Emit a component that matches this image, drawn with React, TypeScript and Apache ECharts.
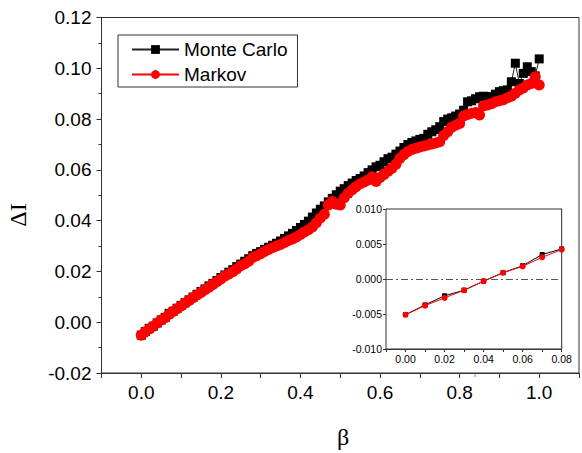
import React, { useEffect, useRef } from 'react';
import * as echarts from 'echarts';

const beta = [
  0.0, 0.01, 0.02, 0.03, 0.04, 0.05, 0.06, 0.07, 0.08, 0.09,
  0.1, 0.11, 0.12, 0.13, 0.14, 0.15, 0.16, 0.17, 0.18, 0.19,
  0.2, 0.21, 0.22, 0.23, 0.24, 0.25, 0.26, 0.27, 0.28, 0.29,
  0.3, 0.31, 0.32, 0.33, 0.34, 0.35, 0.36, 0.37, 0.38, 0.39,
  0.4, 0.41, 0.42, 0.43, 0.44, 0.45, 0.46, 0.47, 0.48, 0.49,
  0.5, 0.51, 0.52, 0.53, 0.54, 0.55, 0.56, 0.57, 0.58, 0.59,
  0.6, 0.61, 0.62, 0.63, 0.64, 0.65, 0.66, 0.67, 0.68, 0.69,
  0.7, 0.71, 0.72, 0.73, 0.74, 0.75, 0.76, 0.77, 0.78, 0.79,
  0.8, 0.81, 0.82, 0.83, 0.84, 0.85, 0.86, 0.87, 0.88, 0.89,
  0.9, 0.91, 0.92, 0.93, 0.94, 0.95, 0.96, 0.97, 0.98, 0.99,
  1.0,
];

const monteCarlo = [
  -0.0051, -0.0037, -0.0024, -0.0016, -0.0003, 0.0009, 0.0019, 0.0035, 0.0043, 0.0055,
  0.0066, 0.0077, 0.0088, 0.0099, 0.011, 0.0121, 0.0131, 0.0143, 0.0153, 0.0164,
  0.0176, 0.0186, 0.0197, 0.0207, 0.0219, 0.0229, 0.024, 0.025, 0.0262, 0.0271,
  0.0278, 0.0287, 0.0295, 0.0303, 0.0311, 0.032, 0.033, 0.034, 0.035, 0.0361,
  0.0373, 0.0385, 0.0398, 0.0414, 0.043, 0.0445, 0.0458, 0.0474, 0.0488, 0.0502,
  0.0516, 0.0526, 0.0538, 0.0548, 0.0558, 0.0566, 0.0576, 0.0589, 0.06, 0.0612,
  0.0618, 0.0632, 0.0644, 0.065, 0.0662, 0.0674, 0.0688, 0.07, 0.0708, 0.0714,
  0.072, 0.0724, 0.074, 0.075, 0.0758, 0.077, 0.079, 0.08, 0.0805, 0.0812,
  0.082, 0.0835, 0.0868, 0.0872, 0.088, 0.0888, 0.089, 0.0888, 0.0888, 0.0898,
  0.0908, 0.0912, 0.0915, 0.0947, 0.102, 0.094, 0.098, 0.1006, 0.0987, 0.097,
  0.1037,
];

const markov = [
  -0.0051, -0.0038, -0.0027, -0.0016, -0.0003, 0.0009, 0.0018, 0.0031, 0.0042, 0.0053,
  0.0064, 0.0075, 0.0086, 0.0096, 0.0107, 0.0117, 0.0128, 0.0138, 0.0149, 0.0159,
  0.017, 0.0182, 0.019, 0.0199, 0.021, 0.0222, 0.023, 0.024, 0.0255, 0.0262,
  0.027, 0.0279, 0.0286, 0.0294, 0.03, 0.0306, 0.0314, 0.0322, 0.0328, 0.0336,
  0.0345, 0.0355, 0.0364, 0.0375, 0.0392, 0.041, 0.0425, 0.0462, 0.0475, 0.0465,
  0.0462, 0.049, 0.0508, 0.0522, 0.0534, 0.0545, 0.0552, 0.056, 0.0573, 0.0554,
  0.057, 0.0582, 0.0595, 0.0606, 0.0622, 0.0646, 0.066, 0.0672, 0.068, 0.0685,
  0.069, 0.0694, 0.0698, 0.0702, 0.0706, 0.0711, 0.0735, 0.075, 0.0768, 0.0776,
  0.0783, 0.0812, 0.0818, 0.0823, 0.0826, 0.0816, 0.0852, 0.0855, 0.086, 0.0868,
  0.0872, 0.0876, 0.0884, 0.089, 0.0902, 0.0915, 0.0922, 0.0934, 0.094, 0.0967,
  0.0934,
];

const INSET_COUNT = 9;
const seriesNames = ['Monte Carlo', 'Markov'];

const SANS = "'Liberation Sans', Arial, sans-serif";
const SERIF = "'Liberation Serif', 'Times New Roman', serif";

export default function App() {
  const ref = useRef<HTMLDivElement>(null);
  useEffect(() => {
    if (!ref.current) return;
    const chart = echarts.init(ref.current, null, { renderer: 'svg' });
    const pairs = (ys: number[], n?: number) =>
      (n ? ys.slice(0, n) : ys).map((y, i) => [beta[i], y]);
    const axisLine = { show: true, onZero: false, lineStyle: { color: '#333', width: 1 } };
    chart.setOption({
      animation: false,
      backgroundColor: '#fff',
      grid: [
        { left: 101.5, top: 17.5, right: -2.5, bottom: 80, show: true, borderColor: '#333', borderWidth: 1, backgroundColor: 'transparent' },
        { left: 386, top: 209, right: 20.3, bottom: 104, show: true, borderColor: '#333', borderWidth: 1, backgroundColor: '#fff', z: 5 },
      ],
      legend: {
        data: seriesNames,
        left: 118,
        top: 35,
        orient: 'vertical',
        selectedMode: false,
        itemWidth: 47,
        itemHeight: 11,
        itemGap: 6,
        padding: [5, 10, 3, 13],
        borderColor: '#333',
        borderWidth: 1,
        borderRadius: 0,
        backgroundColor: '#fff',
        textStyle: { fontSize: 19, fontFamily: SANS, color: '#000' },
      },
      xAxis: [
        {
          type: 'value', gridIndex: 0, min: -0.1, max: 1.1, interval: 0.1,
          axisLine, splitLine: { show: false },
          axisTick: { show: true, inside: false, length: 5, lineStyle: { color: '#333' } },
          axisLabel: {
            fontSize: 19, fontFamily: SANS, color: '#000', margin: 10,
            formatter: (v: number) => {
              const k = Math.round(v * 10);
              return k >= 0 && k <= 10 && k % 2 === 0 ? (k / 10).toFixed(1) : '';
            },
          },
        },
        {
          type: 'value', gridIndex: 1, min: -0.01, max: 0.08, interval: 0.01,
          axisLine, splitLine: { show: false },
          axisTick: { show: true, inside: false, length: 3, lineStyle: { color: '#333' } },
          axisLabel: {
            fontSize: 10.5, fontFamily: SANS, color: '#000', margin: 4,
            formatter: (v: number) => {
              const k = Math.round(v * 100);
              return k >= 0 && k % 2 === 0 ? (k / 100).toFixed(2) : '';
            },
          },
        },
      ],
      yAxis: [
        {
          type: 'value', gridIndex: 0, min: -0.02, max: 0.12, interval: 0.02,
          axisLine, splitLine: { show: false },
          axisTick: { show: true, inside: false, length: 5, lineStyle: { color: '#333' } },
          minorTick: { show: true, splitNumber: 2, length: 3, lineStyle: { color: '#333' } },
          axisLabel: { fontSize: 19, fontFamily: SANS, color: '#000', margin: 10, formatter: (v: number) => v.toFixed(2) },
        },
        {
          type: 'value', gridIndex: 1, min: -0.01, max: 0.01, interval: 0.005,
          axisLine, splitLine: { show: false },
          axisTick: { show: true, inside: false, length: 3, lineStyle: { color: '#333' } },
          axisLabel: { fontSize: 10.5, fontFamily: SANS, color: '#000', margin: 4, formatter: (v: number) => v.toFixed(3) },
        },
        {
          type: 'value', gridIndex: 1, position: 'right', min: -0.01, max: 0.01, interval: 0.004,
          axisLine, splitLine: { show: false },
          axisTick: { show: true, inside: true, length: 3, lineStyle: { color: '#333' } },
          axisLabel: { show: false },
        },
      ],
      series: [
        {
          name: seriesNames[0], type: 'line', xAxisIndex: 0, yAxisIndex: 0,
          data: pairs(monteCarlo), symbol: 'rect', symbolSize: 9,
          itemStyle: { color: '#000' }, lineStyle: { color: '#222', width: 1 }, z: 2,
        },
        {
          name: seriesNames[1], type: 'line', xAxisIndex: 0, yAxisIndex: 0,
          data: pairs(markov), symbol: 'circle', symbolSize: 11,
          itemStyle: { color: '#ff0000' }, lineStyle: { color: '#ff0000', width: 1 }, z: 3,
        },
        {
          name: 'inset-mc', type: 'line', xAxisIndex: 1, yAxisIndex: 1,
          data: pairs(monteCarlo, INSET_COUNT), symbol: 'rect', symbolSize: 5,
          itemStyle: { color: '#000' }, lineStyle: { color: '#000', width: 1 }, z: 6,
          markLine: {
            silent: true, symbol: 'none', label: { show: false },
            lineStyle: { color: '#555', width: 1, type: [7, 3, 2, 3] },
            data: [{ yAxis: 0 }],
          },
        },
        {
          name: 'inset-markov', type: 'line', xAxisIndex: 1, yAxisIndex: 1,
          data: pairs(markov, INSET_COUNT), symbol: 'circle', symbolSize: 6,
          itemStyle: { color: '#ff0000' }, lineStyle: { color: '#ff0000', width: 1 }, z: 7,
        },
      ],
      graphic: [
        {
          type: 'text', x: 343, y: 437,
          style: { text: 'β', fontSize: 24, fontFamily: SERIF, fill: '#000', textAlign: 'center', textVerticalAlign: 'middle' },
        },
        {
          type: 'text', x: 18, y: 215, rotation: Math.PI / 2,
          style: { text: 'ΔI', fontSize: 24, fontFamily: SERIF, fill: '#000', textAlign: 'center', textVerticalAlign: 'middle' },
        },
        {
          type: 'text', x: 475, y: 376,
          style: { text: '^', fontSize: 7, fontFamily: SANS, fill: '#666', textAlign: 'center', textVerticalAlign: 'middle' },
        },
      ],
    });
    return () => chart.dispose();
  }, []);
  return <div ref={ref} style={{ position: 'absolute', left: 0, top: 0, width: 582, height: 453 }} />;
}
